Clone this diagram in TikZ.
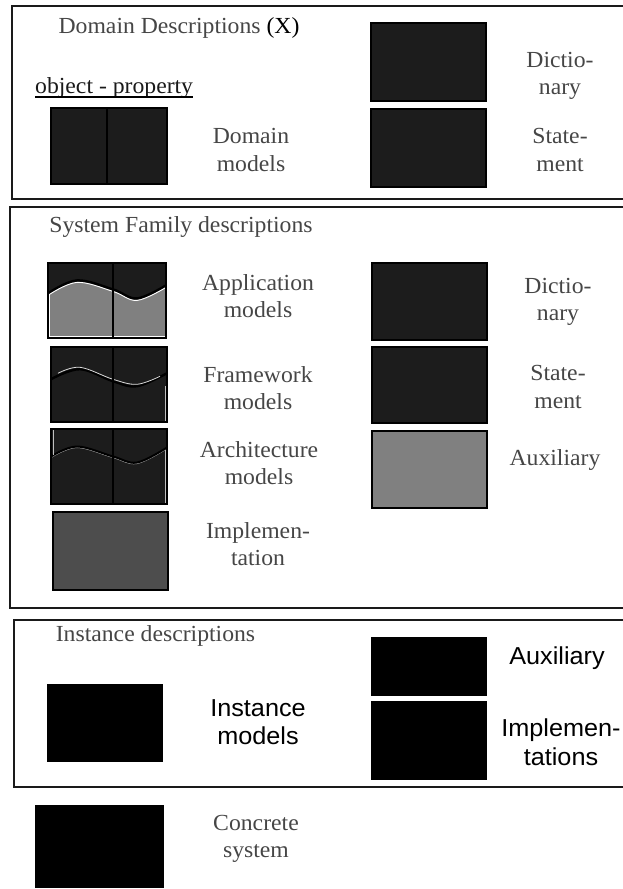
\documentclass[tikz,border=0pt]{standalone}
\usepackage{fontspec}
\setmainfont{Liberation Serif}[FakeStretch=1.03]
\newfontfamily\arialfont{Liberation Sans}[FakeStretch=1.03]
\definecolor{tiledark}{HTML}{1C1C1C}
\definecolor{tilegray}{HTML}{808080}
\definecolor{tilemid}{HTML}{4D4D4D}
\definecolor{labelgray}{HTML}{464646}
\definecolor{framecol}{HTML}{1A1A1A}
\newcommand\lblserif{\fontsize{23}{27.5}\selectfont}
\newcommand\lblsans{\arialfont\fontsize{24.5}{28.5}\selectfont}
\begin{document}
\begin{tikzpicture}[x=1pt,y=-1pt,
  frame/.style={draw=framecol,line width=2.5pt},
  tile/.style={draw=black,fill=tiledark,line width=2.8pt,outer sep=0pt,inner sep=0pt},
  solidtile/.style={fill=black,outer sep=0pt,inner sep=0pt},
  tileborder/.style={draw=black,line width=2.8pt},
  divider/.style={draw=black,line width=2.8pt},
  lbl/.style={text=labelgray,align=center,inner sep=0pt,font=\lblserif},
  sanslbl/.style={text=black,align=center,inner sep=0pt,font=\lblsans},
  wavedark/.style={draw=black,line width=2.4pt},
  wavelight/.style={draw=white,line width=0.9pt}]
\useasboundingbox (0,0) rectangle (623,889);
\fill[white] (0,0) rectangle (623,889);
\clip (0,0) rectangle (623,889);

% ---------------- section frames ----------------
\draw[frame] (12,6) rectangle (640,199);
\draw[frame] (10,207) rectangle (640,608);
\draw[frame] (14,620) rectangle (640,787);

% ---------------- domain descriptions ----------------
\node[lbl] (domtitle) at (179,28) {Domain Descriptions \textcolor{black}{(X)}};
\node[lbl,text=framecol,anchor=base west] (objprop) at (35,93) {object - property};
\draw[line width=1.4pt,black] (objprop.base west) ++(0,4) coordinate (ulA) -- (objprop.base east |- ulA);
\node[tile,minimum width=116pt,minimum height=76pt] (dommod) at (109,146) {};
\draw[divider] (dommod.north) ++(-2,0) coordinate (domdivA) -- (dommod.south -| domdivA);
\node[lbl] (dommodlbl) at (251,150) {Domain\\models};
\node[tile,minimum width=115pt,minimum height=78pt] (dict1) at (428.5,62) {};
\node[lbl] (dict1lbl) at (560,76) {Dictio-\\nary};
\node[tile,minimum width=115pt,minimum height=78pt] (stmt1) at (428.5,148) {};
\node[lbl] (stmt1lbl) at (560,150) {State-\\ment};

% ---------------- system family descriptions ----------------
\node[lbl] (famtitle) at (181,227) {System Family descriptions};

% application models: gray lower half under a wave
\node[tile,minimum width=118pt,minimum height=75pt] (app) at (107,300.5) {};
\begin{scope}
  \clip (app.south west) rectangle (app.north east);
  \fill[tilegray] plot[smooth,tension=0.6] coordinates {(48,295) (77,282) (113,291) (137,300) (166,287)}
    -- (app.south east) -- (app.south west) -- cycle;
  \draw[white,line width=1.2pt] (49.5,295) -- (49.5,336.5) -- (165,336.5);
  \draw[wavedark,yshift=1.6pt] plot[smooth,tension=0.6] coordinates {(48,295) (77,282) (113,291) (137,300) (166,287)};
  \draw[wavelight,yshift=-0.4pt] plot[smooth,tension=0.6] coordinates {(48,295) (77,282) (113,291) (137,300) (166,287)};
\end{scope}
\draw[tileborder] (app.south west) rectangle (app.north east);
\draw[divider] (app.north) ++(6,0) coordinate (appdivA) -- (app.south -| appdivA);
\node[lbl] (applbl) at (258,296) {Application\\models};

% framework models
\node[tile,minimum width=116pt,minimum height=75pt] (fw) at (109,384.5) {};
\begin{scope}
  \clip (fw.south west) rectangle (fw.north east);
  \draw[wavedark,yshift=-1.2pt] plot[smooth,tension=0.6] coordinates {(51,378) (80,368) (113,380) (137,385) (167,372)};
  \draw[white!85!black,line width=0.8pt,yshift=0.7pt] plot[smooth,tension=0.6] coordinates {(58,374) (80,368) (113,380) (137,385) (160,377)};
  \draw[white!75!black,line width=0.7pt] (165,386) -- (165,421);
\end{scope}
\draw[tileborder] (fw.south west) rectangle (fw.north east);
\draw[divider] (fw.north) ++(4,0) coordinate (fwdivA) -- (fw.south -| fwdivA);
\node[lbl] (fwlbl) at (258,388) {Framework\\models};

% architecture models
\node[tile,minimum width=116pt,minimum height=75pt] (arch) at (109,466.5) {};
\begin{scope}
  \clip (arch.south west) rectangle (arch.north east);
  \draw[white!70!black,line width=0.8pt,yshift=-0.6pt] plot[smooth,tension=0.6] coordinates {(51,457) (77,447) (113,457) (137,463) (167,448)};
  \draw[black,line width=2pt,yshift=0.5pt] plot[smooth,tension=0.6] coordinates {(51,457) (77,447) (113,457) (137,463) (167,448)};
  \draw[white!75!black,line width=0.7pt] (53.5,430) -- (53.5,455);
  \draw[white!75!black,line width=0.7pt] (165,450) -- (165,503);
\end{scope}
\draw[tileborder] (arch.south west) rectangle (arch.north east);
\draw[divider] (arch.north) ++(4,0) coordinate (archdivA) -- (arch.south -| archdivA);
\node[lbl] (archlbl) at (259,463) {Architecture\\models};

% implementation
\node[tile,fill=tilemid,minimum width=115pt,minimum height=78pt] (impl) at (110.5,551) {};
\node[lbl] (impllbl) at (258,544) {Implemen-\\tation};

% right column
\node[tile,minimum width=115pt,minimum height=77pt] (dict2) at (429.5,301.5) {};
\node[lbl] (dict2lbl) at (558,302) {Dictio-\\nary};
\node[tile,minimum width=115pt,minimum height=76pt] (stmt2) at (429.5,385) {};
\node[lbl] (stmt2lbl) at (558,387) {State-\\ment};
\node[tile,fill=tilegray,minimum width=115pt,minimum height=77pt] (aux2) at (429.5,469.5) {};
\node[lbl] (aux2lbl) at (555,460) {Auxiliary};

% ---------------- instance descriptions ----------------
\node[lbl] (insttitle) at (155.5,636) {Instance descriptions};
\node[solidtile,minimum width=116pt,minimum height=78pt] (inst) at (105,723) {};
\node[sanslbl] (instlbl) at (258,722) {Instance\\models};
\node[solidtile,minimum width=116pt,minimum height=59pt] (aux3) at (429,666.5) {};
\node[sanslbl] (aux3lbl) at (557,658) {Auxiliary};
\node[solidtile,minimum width=116pt,minimum height=79pt] (impls) at (429,740.5) {};
\node[sanslbl] (implslbl) at (561,742) {Implemen-\\tations};

% ---------------- concrete system ----------------
\node[solidtile,minimum width=129pt,minimum height=83pt] (concrete) at (99.5,846.5) {};
\node[lbl] (concretelbl) at (256,839) {Concrete\\system};
\end{tikzpicture}
\end{document}
